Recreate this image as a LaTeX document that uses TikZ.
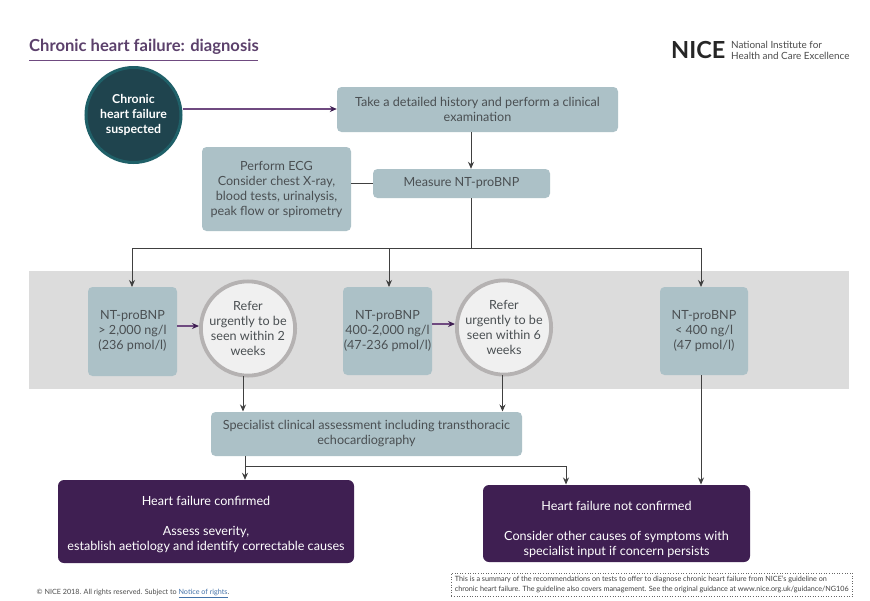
\documentclass[tikz,border=0pt]{standalone}
\usepackage{fontspec}
\setmainfont{Lato}
\usetikzlibrary{arrows.meta,calc}
\definecolor{boxc}{HTML}{ACC1C7}
\definecolor{inkc}{HTML}{4A4F52}
\definecolor{purp}{HTML}{3F1F52}
\definecolor{purl}{HTML}{6F4A80}
\definecolor{teald}{HTML}{1F444E}
\definecolor{tealr}{HTML}{1F6068}
\definecolor{band}{HTML}{DCDCDC}
\definecolor{ringc}{HTML}{B5B2B2}
\definecolor{circc}{HTML}{F0F0F0}
\definecolor{linec}{HTML}{404040}
\definecolor{linkc}{HTML}{4472A8}
\tikzset{
  x=1pt,y=-1pt,
  txt/.style={font=\fontsize{12.6}{15}\selectfont,text=inkc,align=center,inner sep=0pt},
  bx/.style={txt,fill=boxc,rounded corners=4.5pt,draw=none},
  ringn/.style={txt,circle,fill=circc,draw=ringc,line width=3.8pt,minimum size=93pt,inner sep=0pt},
  dark/.style={font=\fontsize{12.6}{15}\selectfont,text=white,align=center,inner sep=0pt,fill=purp,rounded corners=6pt},
  blk/.style={draw=linec,line width=.95pt,-{Stealth[length=7pt,width=6pt]}},
  thn/.style={draw=linec,line width=.9pt,-{Stealth[length=7pt,width=6pt]}},
  pur/.style={draw=purl,line width=1.1pt,-{Stealth[length=7pt,width=6pt,color=purp]}},
  pln/.style={draw=linec,line width=.95pt}
}
\newcommand{\boxat}[6]{\node[#1,minimum width=#4pt-#3pt,minimum height=#6pt-#5pt] (#2) at ({(#3+#4)/2},{(#5+#6)/2})}
\begin{document}
\begin{tikzpicture}
\useasboundingbox (0,0) rectangle (870,600);
\fill[white] (0,0) rectangle (870,600);
\fill[band] (29,271) rectangle (849,389);
% title
\node[anchor=base west,inner sep=0pt,font=\fontsize{16.6}{20}\selectfont\bfseries,text=purp!85!white] (title) at (29,51) {Chronic heart failure: diagnosis};
\coordinate (ruleL) at (29,60.5); \coordinate (ruleR) at (258,60.5);
\draw[purl,line width=1pt] (ruleL) -- (ruleR);
% logo
\node[anchor=base west,inner sep=0pt,font=\fontsize{23.5}{24}\selectfont\bfseries,text=black!85] (nice) at (671,58) {NICE};
\node[anchor=west,inner sep=0pt,align=left,font=\fontsize{9.9}{10.6}\selectfont,text=black!70] (org) at (731,50.5) {National Institute for\\Health and Care Excellence};
% circle start
\node[circle,fill=teald,draw=tealr,line width=3pt,minimum size=95pt,inner sep=0pt,align=center,text=white,font=\fontsize{12.3}{15}\selectfont\bfseries] (start) at (133.5,115) {Chronic\\heart failure\\suspected};
% boxes
\boxat{bx}{hist}{337}{618}{87}{132} {Take a detailed history and perform a clinical\\examination};
\boxat{bx}{ecg}{202}{351}{147}{231} {Perform ECG\\Consider chest X-ray,\\blood tests, urinalysis,\\peak flow or spirometry};
\boxat{bx}{meas}{373}{550}{169}{198} {Measure NT-proBNP};
\boxat{bx}{nta}{88}{177}{287}{376} {NT-proBNP\\> 2,000 ng/l\\(236 pmol/l)};
\boxat{bx}{ntb}{343}{432}{287}{375} {NT-proBNP\\400-2,000 ng/l\\(47-236 pmol/l)};
\boxat{bx}{ntc}{660}{748}{287}{375} {NT-proBNP\\< 400 ng/l\\(47 pmol/l)};
\node[ringn] (refa) at (248,328.5) {Refer\\urgently to be\\seen within 2\\weeks};
\node[ringn] (refb) at (504,327.5) {Refer\\urgently to be\\seen within 6\\weeks};
\boxat{bx}{spec}{211}{522}{412}{456} {Specialist clinical assessment including transthoracic\\echocardiography};
\boxat{dark}{conf}{58}{354}{480}{563} {\rule{0pt}{16pt}Heart failure confirmed\\[15pt]Assess severity,\\establish aetiology and identify correctable causes};
\boxat{dark}{notc}{483}{750}{485}{562} {\rule{0pt}{22pt}Heart failure not confirmed\\[15pt]Consider other causes of symptoms with\\specialist input if concern persists};
% connectors
\draw[pur] (start.east |- 0,109) -- (hist.west |- 0,109);
\draw[blk] (hist.south -| 471,0) -- (meas.north -| 471,0);
\draw[pln] (ecg.east |- 0,183) -- (meas.west |- 0,183);
\coordinate (trunk) at (471,248);
\draw[pln] (meas.south -| 471,0) -- (trunk);
\draw[blk] (trunk) -| (132,287);
\draw[blk] (trunk) -- (389,248) -- (389,287);
\draw[blk] (trunk) -| (701,287);
\draw[pur] (nta.east |- 0,326) -- (refa.west |- 0,326);
\draw[pur] (ntb.east |- 0,324) -- (refb.west |- 0,324);
\draw[thn] (243,376) -- (243,411.5);
\draw[thn] (502.5,375) -- (502.5,411.5);
\draw[thn] (701,375) -- (701,484.5);
\coordinate (branch) at (245,466);
\draw[pln,line width=.9pt] (spec.south -| 245,0) -- (branch);
\draw[thn] (branch) -- (conf.north -| 245,0);
\draw[thn] (branch) -- (566,466) -- (566,484.5);
% footers
\node[anchor=base west,inner sep=0pt,font=\fontsize{7.2}{8}\selectfont,text=black!70] (copy) at (36.5,594) {© NICE 2018. All rights reserved. Subject to \textcolor{linkc}{\underline{Notice of rights}}.};
\node[anchor=north west,draw=black!60,dotted,line width=.6pt,minimum width=401pt,minimum height=23.5pt,inner xsep=1pt,inner ysep=2pt,align=left,font=\fontsize{7.22}{9.4}\selectfont,text=black!75] (sum) at (451,572.5) {This is a summary of the recommendations on tests to offer to diagnose chronic heart failure from NICE's guideline on\\chronic heart failure. The guideline also covers management. See the original guidance at www.nice.org.uk/guidance/NG106};
\end{tikzpicture}
\end{document}
